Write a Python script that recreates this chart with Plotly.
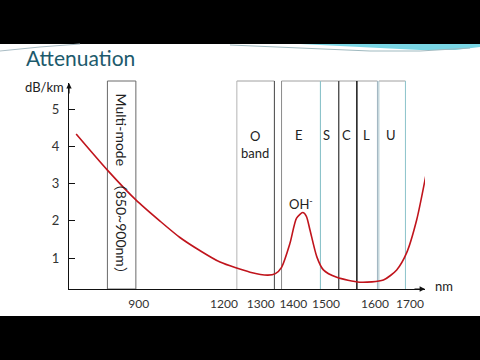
import numpy as np
import plotly.graph_objects as go

# ---------------- data ----------------
TICK_NM = [900, 1200, 1300, 1400, 1500, 1600, 1700]
TICK_LABELS = ["900", "1200", "1300", "1400", "1500", "1600", "1700"]
Y_TICKS = [1, 2, 3, 4, 5]

WAVELENGTH = [680, 790, 890, 975, 1045, 1115, 1186, 1271, 1322, 1345, 1364, 1390,
              1410, 1429, 1440, 1451, 1472, 1492, 1522, 1569, 1624, 1662,
              1690, 1719, 1745]
ATTENUATION = [4.33, 3.36, 2.56, 1.99, 1.55, 1.20, 0.89, 0.62, 0.54, 0.58, 0.75, 1.40,
               2.07, 2.22, 2.12, 1.75, 1.03, 0.68, 0.48, 0.35, 0.41, 0.68,
               1.13, 2.02, 3.20]

BAND_NAMES = ["O", "E", "S", "C", "L", "U"]
BAND_START = [1235, 1364, 1483, 1526, 1563, 1611]
BAND_END = [1342, 1483, 1526, 1563, 1607, 1687]
MM_BAND = [790, 890]

# ---------------- layout helpers ----------------
W, H = 480, 360
L, R, T, B = 69, 55, 83, 71
X0, X1 = L, W - R           # display units == pixels along the x axis
Y_ZERO_PX, Y_UNIT_PX = 295.25, 37.25
Y_RANGE = [(Y_ZERO_PX - (H - B)) / Y_UNIT_PX, (Y_ZERO_PX - T) / Y_UNIT_PX]

# schematic (non-linear) wavelength scale: position of each tick label
TICK_POS = [138.7, 224.0, 260.7, 293.3, 326.0, 375.0, 410.0]


def nm_to_pos(nm):
    nm = np.asarray(nm, dtype=float)
    pos = np.interp(nm, TICK_NM, TICK_POS)
    s_lo = (TICK_POS[1] - TICK_POS[0]) / (TICK_NM[1] - TICK_NM[0])
    s_hi = (TICK_POS[-1] - TICK_POS[-2]) / (TICK_NM[-1] - TICK_NM[-2])
    pos = np.where(nm < TICK_NM[0], TICK_POS[0] + (nm - TICK_NM[0]) * s_lo, pos)
    pos = np.where(nm > TICK_NM[-1], TICK_POS[-1] + (nm - TICK_NM[-1]) * s_hi, pos)
    return pos


def pxx(px):
    return (px - X0) / (X1 - X0)


def pxy(py):
    return ((H - B) - py) / ((H - B) - T)


def path_px(points, close=False):
    s = "M " + " L ".join(f"{pxx(x):.4f},{pxy(y):.4f}" for x, y in points)
    return s + (" Z" if close else "")


FONT = "Lato, 'Noto Sans CJK SC', sans-serif"
CJK = "font-family:Noto Sans CJK SC"

fig = go.Figure()

fig.add_trace(go.Scatter(
    x=nm_to_pos(WAVELENGTH), y=ATTENUATION, mode="lines",
    line=dict(color="#c0141c", width=1.6, shape="spline", smoothing=0.7),
    hoverinfo="skip", showlegend=False))

shapes = []
# slide background
shapes.append(dict(type="rect", xref="paper", yref="paper", x0=pxx(0), x1=pxx(W),
                   y0=pxy(316), y1=pxy(44), fillcolor="white", line_width=0, layer="below"))
# decorative swoosh
shapes.append(dict(type="path", xref="paper", yref="paper",
                   path=path_px([(300, 44), (360, 47), (420, 50), (455, 50), (480, 47), (480, 44)], close=True),
                   fillcolor="#62cfe0", opacity=0.85, line_width=0, layer="below"))
shapes.append(dict(type="path", xref="paper", yref="paper",
                   path=path_px([(230, 45), (300, 48), (370, 51), (420, 51), (470, 48)]),
                   line=dict(color="#9fb9bf", width=1), layer="below"))
shapes.append(dict(type="path", xref="paper", yref="paper",
                   path=path_px([(0, 51), (40, 47), (80, 44)]),
                   line=dict(color="#a9bcc4", width=1), layer="below"))

band_top = pxy(81)
# multimode band
mm0, mm1 = nm_to_pos(MM_BAND)
shapes.append(dict(type="rect", xref="x", yref="paper", x0=mm0, x1=mm1, y0=0, y1=band_top,
                   line=dict(color="#6a6a6a", width=1), layer="below"))

LEFT_COL = ["#b4b4b4", "#8a8a8a", "#8cc3ca", "#4a4a4a", "#111111", "#a9c4cc"]
RIGHT_COL = ["#444444", "#8cc3ca", "#4a4a4a", "#111111", "#9fb4c0", "#8cc3ca"]
for i in range(len(BAND_NAMES)):
    a, b = nm_to_pos([BAND_START[i], BAND_END[i]])
    shapes.append(dict(type="line", xref="x", yref="paper", x0=a, x1=b, y0=band_top, y1=band_top,
                       line=dict(color="#a0a0a0", width=1), layer="below"))
for i in range(len(BAND_NAMES)):
    a, b = nm_to_pos([BAND_START[i], BAND_END[i]])
    shapes.append(dict(type="line", xref="x", yref="paper", x0=a, x1=a, y0=0, y1=band_top,
                       line=dict(color=LEFT_COL[i], width=1), layer="below"))
for i in range(len(BAND_NAMES)):
    a, b = nm_to_pos([BAND_START[i], BAND_END[i]])
    shapes.append(dict(type="line", xref="x", yref="paper", x0=b, x1=b, y0=0, y1=band_top,
                       line=dict(color=RIGHT_COL[i], width=1), layer="below"))

annotations = []
annotations.append(dict(text="Attenuation", xref="paper", yref="paper", x=pxx(24), y=pxy(57),
                        xanchor="left", yanchor="middle", showarrow=False,
                        font=dict(family=FONT, size=21, color="#1d5a6c")))
annotations.append(dict(text="dB/km", xref="paper", yref="paper", x=pxx(66), y=pxy(87),
                        xanchor="right", yanchor="middle", showarrow=False,
                        font=dict(family=FONT, size=13, color="#222")))
annotations.append(dict(text="nm", xref="paper", yref="paper", x=pxx(433), y=pxy(286),
                        xanchor="left", yanchor="middle", showarrow=False,
                        font=dict(family=FONT, size=13, color="#222")))
# axis arrows
annotations.append(dict(text="", xref="paper", yref="paper", x=0, y=pxy(83), ax=0, ay=12,
                        showarrow=True, arrowhead=2, arrowsize=0.9, arrowwidth=1.2, arrowcolor="#111"))
annotations.append(dict(text="", xref="paper", yref="paper", x=1, y=0, ax=-12, ay=0,
                        showarrow=True, arrowhead=2, arrowsize=0.9, arrowwidth=1.2, arrowcolor="#111"))
# band labels
for i, name in enumerate(BAND_NAMES):
    c = nm_to_pos([(BAND_START[i] + BAND_END[i]) / 2])[0]
    txt = "O<br>band" if name == "O" else name
    annotations.append(dict(text=txt, x=c - 1.5, y=4.30, xref="x", yref="y",
                            yanchor="top" if name == "O" else "middle", yshift=9 if name == "O" else 0,
                            showarrow=False, font=dict(family=FONT, size=13, color="#222")))
annotations.append(dict(text="OH<sup>-</sup>", x=nm_to_pos([1425])[0], y=2.45, xref="x", yref="y",
                        showarrow=False, font=dict(family=FONT, size=13, color="#222")))
mm_text = (f"Multi-mode <span style=\"{CJK}\">\u3000（</span>850~900nm"
           f"<span style=\"{CJK}\">）</span>")
annotations.append(dict(text=mm_text, x=(mm0 + mm1) / 2, y=2.90,
                        xref="x", yref="y", textangle=90, showarrow=False,
                        font=dict(family=FONT, size=14, color="#222")))

fig.update_layout(
    width=W, height=H, autosize=False,
    margin=dict(l=L, r=R, t=T, b=B, pad=0),
    paper_bgcolor="black", plot_bgcolor="white",
    shapes=shapes, annotations=annotations, showlegend=False,
    xaxis=dict(range=[X0, X1], showgrid=False, zeroline=False, showline=True,
               linecolor="#111", linewidth=1.2, ticks="",
               tickvals=list(nm_to_pos(TICK_NM)), ticktext=TICK_LABELS,
               tickfont=dict(family=FONT, size=12, color="#333"), ticklabelstandoff=3),
    yaxis=dict(range=Y_RANGE, showgrid=False, zeroline=False, showline=True,
               linecolor="#111", linewidth=1.2, ticks="inside", ticklen=6, tickcolor="#111",
               tickvals=Y_TICKS, tickfont=dict(family=FONT, size=13, color="#333"),
               ticklabelstandoff=6),
)

fig.write_html("out.html", config={"displayModeBar": False},
               post_script="document.body.style.margin='0';document.body.style.overflow='hidden';")
